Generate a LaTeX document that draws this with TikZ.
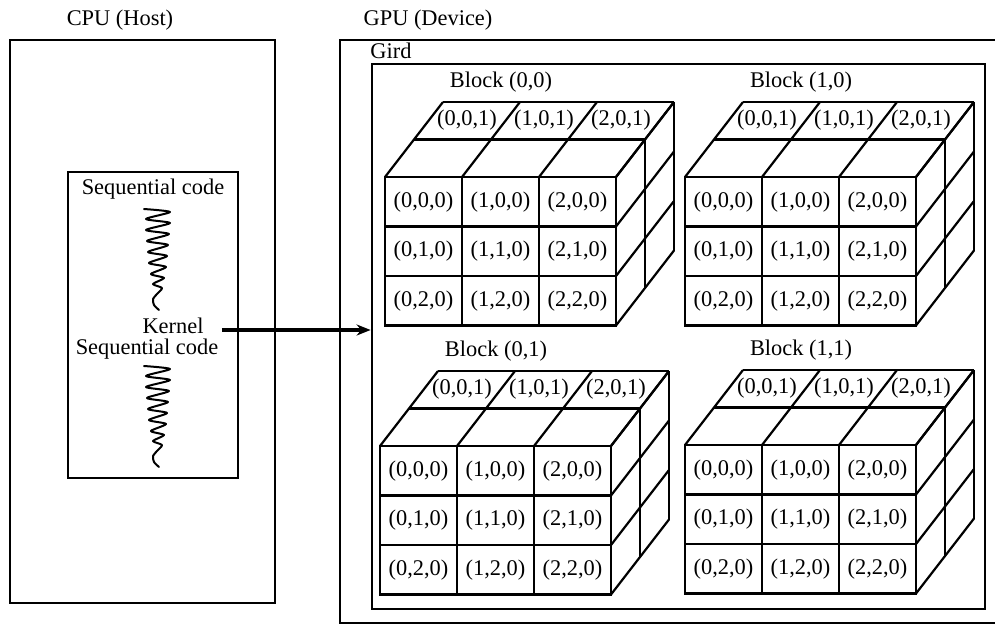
\documentclass[tikz,border=0pt]{standalone}
\usepackage{fontspec}
\setmainfont{Liberation Serif}
\usetikzlibrary{arrows.meta,fit}
\tikzset{
  cell/.style={draw, line width=1.1pt, minimum width=38.5pt, minimum height=24.75pt, inner sep=0pt, font=\fontsize{11.2}{13}\selectfont},
  lbl/.style={inner sep=0pt, font=\fontsize{11.2}{13}\selectfont},
  cubeline/.style={line width=1.1pt},
  boxline/.style={draw, line width=1.2pt, inner sep=0pt},
  scribble/.style={line width=1pt, line join=round, line cap=round},
  kernarrow/.style={line width=1.6pt, -{Stealth[length=7pt,width=5.5pt]}}
}
\newcommand{\gblock}[4]{%
  \begin{scope}[shift={(#2,#3)}]
    \foreach \k in {0,1,2,3} \draw[cubeline] ({\k*77},0) -- ++(58,-75);
    \draw[cubeline] (29,-37.5) -- ++(231,0);
    \draw[cubeline] (58,-75) -- ++(231,0);
    \draw[cubeline] (260,-37.5) -- ++(0,148.5);
    \draw[cubeline] (289,-75) -- ++(0,148.5);
    \foreach \k in {0,1,2,3} \draw[cubeline] (231,{\k*49.5}) -- ++(58,-75);
    \foreach \i in {0,1,2} {
      \foreach \j in {0,1,2} {
        \node[cell, fill=white] (#1-\i\j) at ({\i*77+38.5},{\j*49.5+24.75}) {(\i,\j,0)};
      }
      \node[lbl] (#1-t\i) at ({\i*77+38.5+43.5},-56.5) {(\i,0,1)};
    }
    \node[lbl] (#1-lab) at (116,-95) {#4};
  \end{scope}}
\newcommand{\scribblepath}[2]{%
  \begin{scope}[shift={(#1,#2)}]
    \draw[scribble] plot[smooth, tension=0.45] coordinates {
      (-13,2) (13,5) (-11,12) (13,16) (-11,23) (12,27) (-10,34) (11,38)
      (-9,45) (10,49) (-8,56) (9,60) (-6,67) (7,71) (-4,77) (5,81)
      (0,87) (-4,92) (-3,98) (2,103)};
  \end{scope}}
\begin{document}
\begin{tikzpicture}[x=0.5pt,y=-0.5pt]
  \useasboundingbox (0,0) rectangle (995,626);
  \clip (0,0) rectangle (995,626);
  % CPU side
  \node[lbl] (cpulab) at (120,20) {CPU (Host)};
  \node[boxline, line width=1.4pt, fit={(10,40) (275,603)}] (cpu) {};
  \node[boxline, line width=1pt, fit={(68,172) (238,478)}] (seq) {};
  \node[lbl] (seq1) at (153,189) {Sequential code};
  \scribblepath{157}{207}
  \node[lbl] (kernel) at (173,326) {Kernel};
  \node[lbl] (seq2) at (147,349) {Sequential code};
  \scribblepath{157}{364}
  % GPU side
  \node[lbl] (gpulab) at (428,20) {GPU (Device)};
  \node[boxline, line width=1.4pt, fit={(340,40) (1020,623)}] (gpu) {};
  \node[lbl] (girdlab) at (391,51) {Gird};
  \node[boxline, line width=1.4pt, fit={(372,64) (985,609)}] (gird) {};
  % blocks
  \gblock{b00}{385}{177}{Block (0,0)}
  \gblock{b10}{685}{177}{Block (1,0)}
  \gblock{b01}{380}{446}{Block (0,1)}
  \gblock{b11}{685}{445}{Block (1,1)}
  % kernel launch arrow
  \draw[kernarrow] ([xshift=9pt,yshift=-2pt]kernel.east) -- ([yshift=-2pt]kernel.east -| gird.west);
\end{tikzpicture}
\end{document}
